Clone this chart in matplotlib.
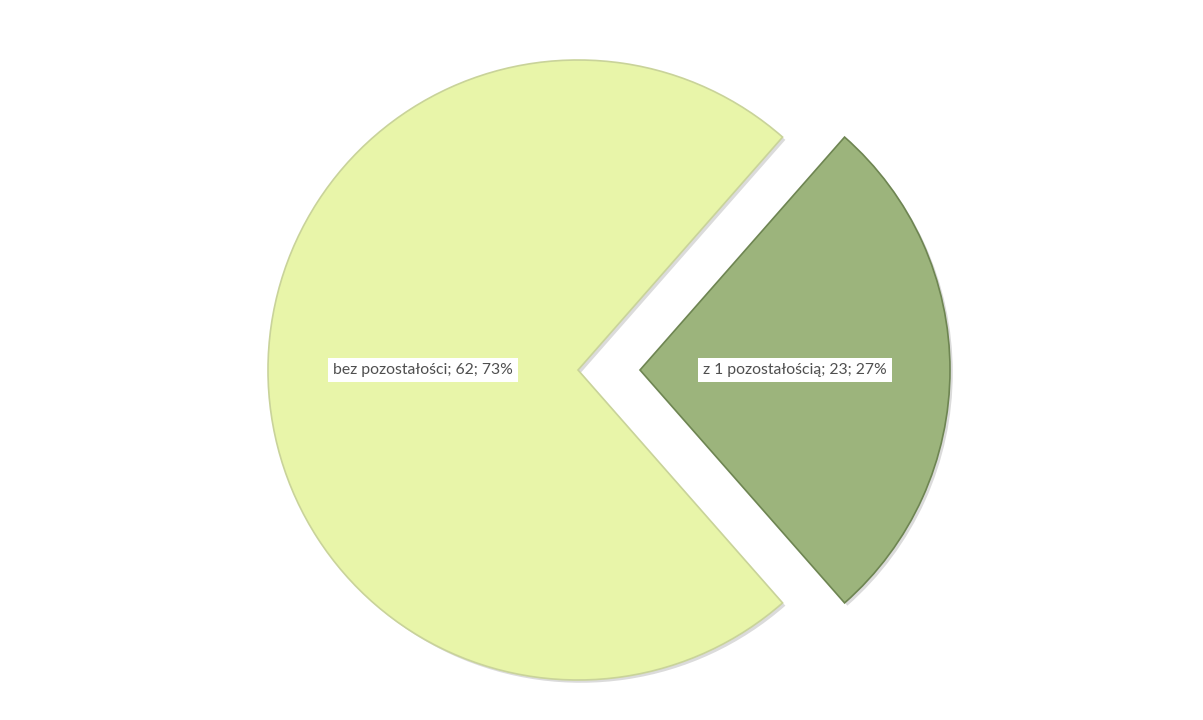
import matplotlib.pyplot as plt
import matplotlib.patheffects as pe

# data
categories = ['bez pozostałości', 'z 1 pozostałością']
values = [62, 23]
colors = ['#E8F5A9', '#9CB47C']
edges = ['#C9D39A', '#6E8552']

total = sum(values)
labels = [f'{c}; {v}; {round(v / total * 100)}%' for c, v in zip(categories, values)]

plt.rcParams['font.family'] = ['Lato', 'DejaVu Sans']

fig = plt.figure(figsize=(12.03, 7.2), dpi=100)
ax = fig.add_axes([0, 0, 1, 1])

radius = 310
# 27% slice centred on the right side, clockwise like Excel
start = -360 * values[1] / total / 2
wedges, texts = ax.pie(values, colors=colors, labels=labels, startangle=start,
                       counterclock=False, center=(578, 350), radius=radius,
                       explode=[0, 0.2 * radius], labeldistance=0.5, frame=True,
                       wedgeprops=dict(linewidth=1.2),
                       textprops=dict(fontsize=11.3, color='#4F4F4F'))

ax.set_xlim(0, 1203)
ax.set_ylim(0, 720)
ax.set_aspect('equal')
ax.axis('off')

for w, ec in zip(wedges, edges):
    w.set_edgecolor(ec)
    w.set_path_effects([pe.SimplePatchShadow(offset=(2, -2), shadow_rgbFace='#888888', alpha=0.3),
                        pe.Normal()])

for t in texts:
    t.set_ha('center')
    t.set_va('center')
    t.set_bbox(dict(facecolor='white', edgecolor='none', pad=4))

fig.savefig('out.png', dpi=100, facecolor='white')
